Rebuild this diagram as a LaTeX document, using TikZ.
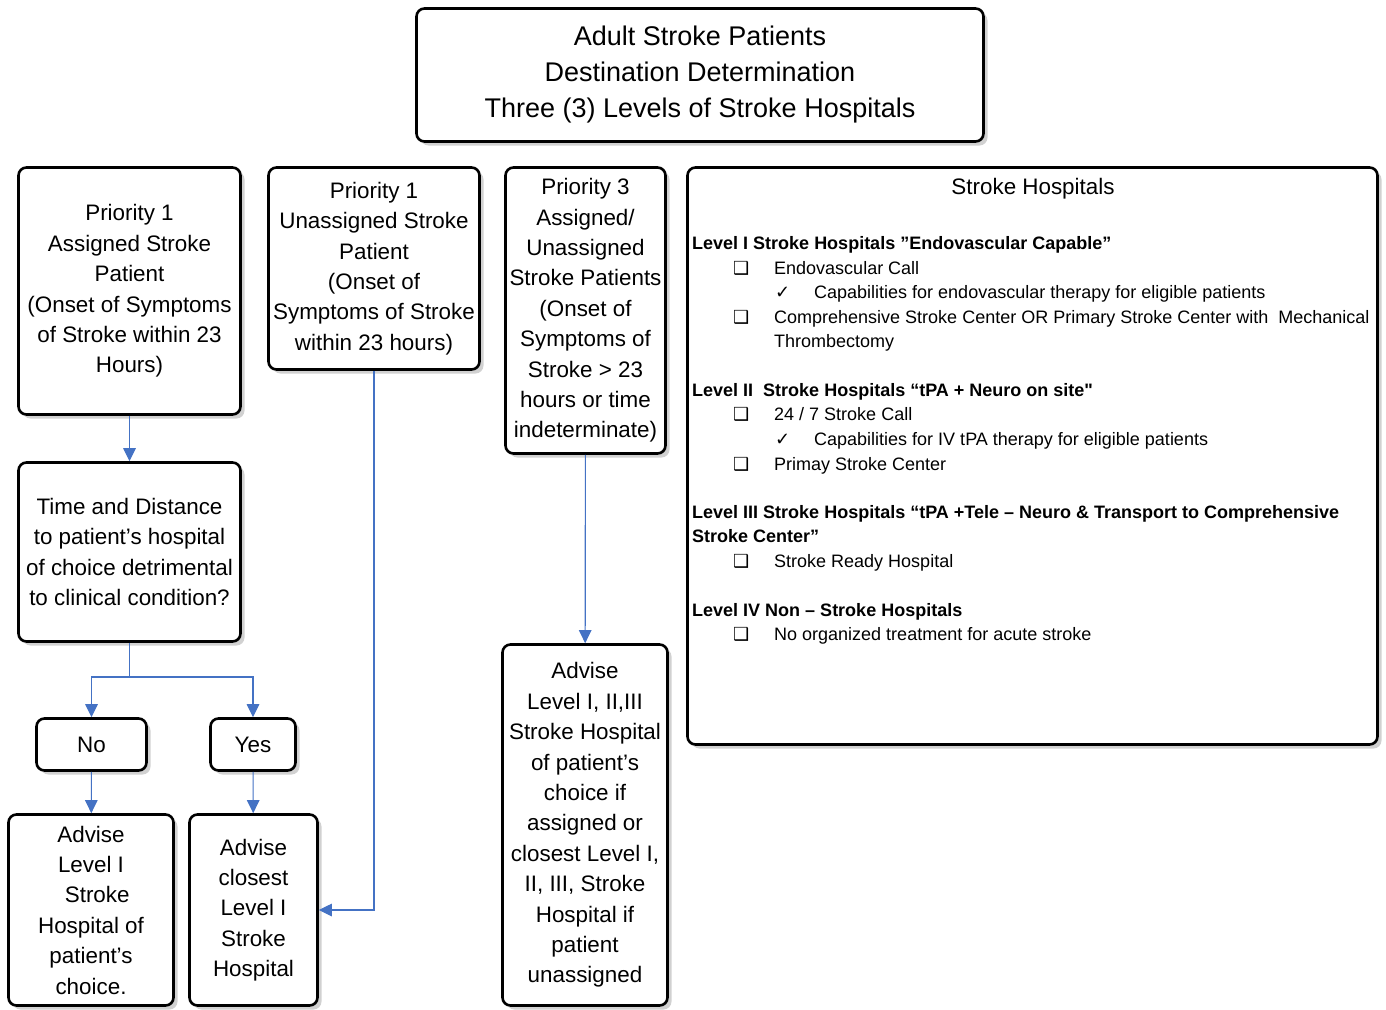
\documentclass[tikz,border=0pt]{standalone}
\usepackage{fontspec}
\setmainfont{Liberation Sans}
\newfontfamily\dv{DejaVu Sans}
\newfontfamily\rawf[Ligatures=ResetAll]{Liberation Sans}
\usetikzlibrary{shadows,arrows.meta}
\definecolor{arrowblue}{HTML}{4472C4}
\tikzset{
 box/.style={draw=black, line width=2.6pt, rounded corners=8pt, fill=white,
   drop shadow={shadow xshift=4pt, shadow yshift=-4pt, fill=black!18, opacity=1},
   align=center, font=\fontsize{22.4}{30.4}\selectfont, inner sep=0pt},
 conn/.style={draw=arrowblue, line width=1.1pt},
 arr/.style={conn, -{Triangle[width=12.5pt,length=13pt]}},
 hd/.style={anchor=base west, font=\fontsize{18}{24}\selectfont\bfseries, inner sep=0pt},
 txt/.style={anchor=base west, font=\fontsize{18}{24}\selectfont, inner sep=0pt},
 sym/.style={anchor=base west, font=\fontsize{18}{24}\selectfont\dv, inner sep=0pt},
}
\begin{document}
\begin{tikzpicture}[x=1pt,y=-1pt]
\useasboundingbox (0,0) rectangle (1386,1009);
% title
\node[box, minimum width=567pt, minimum height=133pt, font=\fontsize{27}{36}\selectfont] (title) at (700,75)
 {Adult Stroke Patients\\Destination Determination\\Three (3) Levels of Stroke Hospitals};
% left column
\node[box, minimum width=222pt, minimum height=247pt] (p1a) at (129.5,291)
 {Priority 1\\Assigned Stroke\\Patient\\(Onset of Symptoms\\of Stroke within 23\\Hours)};
\node[box, minimum width=222pt, minimum height=179pt] (time) at (129.5,552)
 {Time and Distance\\to patient’s hospital\\of choice detrimental\\to clinical condition?};
\node[box, minimum width=110pt, minimum height=52pt] (no) at (91.5,744.5) {No};
\node[box, minimum width=85pt, minimum height=52pt] (yes) at (253,744.5) {Yes};
\node[box, minimum width=165pt, minimum height=191pt] (adv1) at (91,910)
 {Advise\\Level I\\\ \ Stroke\\Hospital of\\patient’s\\choice.};
\node[box, minimum width=128pt, minimum height=191pt] (closest) at (253.5,910)
 {Advise\\closest\\Level I\\Stroke\\Hospital};
% middle columns
\node[box, minimum width=211pt, minimum height=202pt] (p1u) at (374,268.5)
 {Priority 1\\Unassigned Stroke\\Patient\\(Onset of\\Symptoms of Stroke\\within 23 hours)};
\node[box, minimum width=160pt, minimum height=286pt] (p3) at (585.5,310.5)
 {Priority 3\\Assigned/\\Unassigned\\Stroke Patients\\(Onset of\\Symptoms of\\Stroke > 23\\hours or time\\indeterminate)};
\node[box, minimum width=165pt, minimum height=361pt] (adv3) at (585,825)
 {Advise\\Level I, II,III\\Stroke Hospital\\of patient’s\\choice if\\assigned or\\closest Level I,\\II, III, Stroke\\Hospital if\\patient\\unassigned};
% hospitals box
\node[box, minimum width=690pt, minimum height=577pt] (hosp) at (1032.5,456) {};
\node[anchor=base, inner sep=0pt, font=\fontsize{22.4}{30}\selectfont] (hosptitle) at (1033,194) {Stroke Hospitals};
\node[hd] (l1) at (692,249) {Level I Stroke Hospitals ”Endovascular Capable”};
\node[sym] (l1s1) at (733,274) {❑};
\node[txt] (l1t1) at (774,274) {Endovascular Call};
\node[sym] (l1c1) at (775,298) {✓};
\node[txt] (l1t2) at (814,298) {Capabilities for endovascular therapy for eligible patients};
\node[sym] (l1s2) at (733,323) {❑};
\node[txt] (l1t3) at (774,323) {Comprehensive Stroke Center OR Primary Stroke Center with\ \ Mechanical};
\node[txt] (l1t4) at (774,347) {Thrombectomy};
\node[hd] (l2) at (692,396) {Level II\ \ Stroke Hospitals “tPA + Neuro on site{\rawf\bfseries "}};
\node[sym] (l2s1) at (733,420) {❑};
\node[txt] (l2t1) at (774,420) {24 / 7 Stroke Call};
\node[sym] (l2c1) at (775,445) {✓};
\node[txt] (l2t2) at (814,445) {Capabilities for IV tPA therapy for eligible patients};
\node[sym] (l2s2) at (733,470) {❑};
\node[txt] (l2t3) at (774,470) {Primay Stroke Center};
\node[hd] (l3) at (692,518) {Level III Stroke Hospitals “tPA +Tele – Neuro \& Transport to Comprehensive};
\node[hd] (l3b) at (692,542) {Stroke Center”};
\node[sym] (l3s1) at (733,567) {❑};
\node[txt] (l3t1) at (774,567) {Stroke Ready Hospital};
\node[hd] (l4) at (692,616) {Level IV Non – Stroke Hospitals};
\node[sym] (l4s1) at (733,640) {❑};
\node[txt] (l4t1) at (774,640) {No organized treatment for acute stroke};
% connectors
\coordinate (fork) at (129.5,677);
\draw[arr] (p1a) -- (time);
\draw[conn] (time) -- (fork);
\draw[arr] (fork) -| (no);
\draw[arr] (fork) -| (yes);
\draw[arr] (no) -- (adv1);
\draw[arr] (yes) -- (closest);
\draw[arr] (p1u) |- (closest);
\draw[arr] (p3) -- (adv3);
\end{tikzpicture}
\end{document}
